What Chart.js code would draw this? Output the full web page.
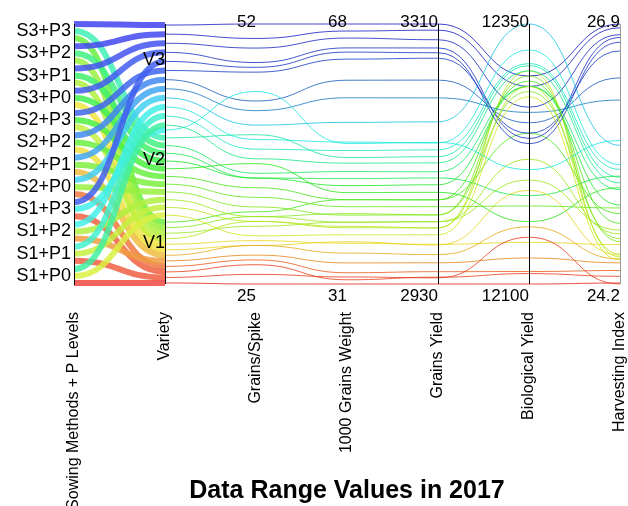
<!DOCTYPE html>
<html>
<head>
<meta charset="utf-8">
<script src="https://cdn.jsdelivr.net/npm/chart.js@4.4.1/dist/chart.umd.min.js"></script>
<style>
  html, body { margin: 0; padding: 0; background: #fff; }
  #wrap { width: 628px; height: 506px; }
</style>
</head>
<body>
<div id="wrap"><canvas id="chart"></canvas></div>
<script>
const treatments = ['S1+P0', 'S1+P1', 'S1+P2', 'S1+P3', 'S2+P0', 'S2+P1',
                    'S2+P2', 'S2+P3', 'S3+P0', 'S3+P1', 'S3+P2', 'S3+P3'];
const varieties = ['V1', 'V2', 'V3'];
const axisNames = ['Sowing Methods + P Levels', 'Variety', 'Grains/Spike',
                   '1000 Grains Weight', 'Grains Yield', 'Biological Yield', 'Harvesting Index'];
const axisMin = [null, null, 25, 31, 2930, 12100, 24.2];
const axisMax = [null, null, 52, 68, 3310, 12350, 26.9];

// three rows per treatment: V1, V2, V3
const grainsSpike = [
  25.0, 30.0, 38.0,   26.0, 31.5, 39.0,   28.0, 32.0, 40.0,   27.0, 45.0, 47.5,
  27.5, 33.0, 41.5,   29.0, 34.0, 43.0,   29.0, 35.0, 44.0,   31.5, 37.5, 47.0,
  29.5, 36.0, 48.0,   31.0, 36.0, 49.5,   32.0, 36.5, 50.5,   32.5, 40.5, 52.0
];
const grainWeight = [
  31.0, 38.0, 48.2,   32.0, 39.2, 50.0,   34.0, 39.8, 51.2,   31.6, 51.0, 64.0,
  32.6, 40.8, 54.0,   35.4, 42.0, 57.5,   37.0, 43.0, 60.0,   39.0, 44.0, 63.0,
  36.8, 45.0, 64.6,   39.8, 46.0, 66.0,   41.0, 47.0, 67.0,   43.0, 49.0, 68.0
];
const grainYield = [
  2930, 3002, 3107,   2939, 3012, 3126,   2961, 3021, 3136,   2940, 3137, 3268,
  2948, 3031, 3167,   2973, 3043, 3202,   2987, 3053, 3228,   3012, 3064, 3260,
  2988, 3075, 3275,   3021, 3085, 3287,   3031, 3094, 3301,   3053, 3116, 3310
];
const bioYield = [
  12100, 12280, 12305,   12145, 12290, 12312,   12125, 12200, 12325,   12110, 12210, 12235,
  12112, 12285, 12350,   12155, 12175, 12265,   12190, 12295, 12255,   12305, 12160, 12245,
  12140, 12290, 12240,   12220, 12185, 12270,   12300, 12290, 12290,   12245, 12310, 12300
];
const harvestIndex = [
  24.21, 24.45, 25.25,   24.20, 24.51, 25.39,   24.42, 24.76, 25.44,   24.28, 25.69, 26.71,
  24.34, 24.67, 25.64,   24.46, 24.99, 26.11,   24.50, 24.83, 26.34,   24.48, 25.20, 26.62,
  24.61, 25.02, 26.76,   24.72, 25.32, 26.79,   24.64, 25.18, 26.86,   24.93, 25.31, 26.90
];

const FONT = "'Liberation Sans', Arial, sans-serif";
Chart.defaults.font.family = FONT;
Chart.defaults.color = '#000';

// vertical layout of the two categorical axes, in plot-height units (0 bottom, 1 top)
const plotH = 260;
const slotPos = (t, v) => (8 + 22.27 * t + (v - 1) * 7) / plotH;
const varietyBands = [[0.004, 0.238], [0.265, 0.592], [0.611, 0.996]];
const varietyLabelPos = varietyBands.map(([lo, hi]) => hi - 0.35 * (hi - lo));

// rows sit inside their variety band ordered by grain yield
const varietyPos = grainYield.map((gy, i) => {
  const v = i % 3;
  const group = grainYield.filter((_, j) => j % 3 === v).sort((a, b) => b - a);
  const [lo, hi] = varietyBands[v];
  return hi - group.indexOf(gy) / (group.length - 1) * (hi - lo);
});

const norm = (val, k) => (val - axisMin[k]) / (axisMax[k] - axisMin[k]);

// rainbow keyed on grain yield: red at the bottom of the range, blue at the top
const hueStops = [[0, 2], [0.15, 55], [0.35, 115], [0.55, 180], [0.85, 226], [1, 240]];
function yieldHue(gy) {
  const n = norm(gy, 4);
  for (let k = 1; k < hueStops.length; k++) {
    const [n0, h0] = hueStops[k - 1];
    const [n1, h1] = hueStops[k];
    if (n <= n1) return h0 + (h1 - h0) * (n - n0) / (n1 - n0);
  }
  return 240;
}

const datasets = grainYield.map((gy, i) => {
  const t = Math.floor(i / 3);
  const v = i % 3;
  const hue = Math.round(yieldHue(gy));
  const ribbon = `hsla(${hue}, 85%, 60%, 0.85)`;
  // blues read darker as hairlines, the warm end stays bright
  const thin = `hsla(${hue}, 80%, ${hue > 200 ? 42 : 50}%, 0.8)`;
  return {
    label: treatments[t] + ' ' + varieties[v],
    xAxisID: 'x',
    yAxisID: 'y',
    clip: false,
    borderColor: thin,
    data: [
      { x: 0, y: slotPos(t, v) },
      { x: 1, y: varietyPos[i] },
      { x: 2, y: norm(grainsSpike[i], 2) },
      { x: 3, y: norm(grainWeight[i], 3) },
      { x: 4, y: norm(gy, 4) },
      { x: 5, y: norm(bioYield[i], 5) },
      { x: 6, y: norm(harvestIndex[i], 6) }
    ],
    segment: {
      borderWidth: ctx => ctx.p0DataIndex === 0 ? 6 : 1,
      borderColor: ctx => ctx.p0DataIndex === 0 ? ribbon : thin
    }
  };
});

// flat tangents at every axis so lines leave and enter each axis horizontally
const levelTangents = {
  id: 'levelTangents',
  beforeDatasetDraw(chart, args) {
    const meta = args.meta;
    const pts = meta.data;
    if (meta.dataset.updateControlPoints) {
      meta.dataset.updateControlPoints(chart.chartArea, meta.iScale.axis);
    }
    pts.forEach((p, i) => {
      const left = i > 0 ? (p.x - pts[i - 1].x) * 0.5 : 0;
      const right = i < pts.length - 1 ? (pts[i + 1].x - p.x) * 0.5 : 0;
      p.cp1x = p.x - left; p.cp1y = p.y;
      p.cp2x = p.x + right; p.cp2y = p.y;
    });
  }
};

const axisLineColors = ['#000', '#000', 'rgba(0,0,0,0)', 'rgba(0,0,0,0)', '#000', '#000', '#999'];
const axisTicks = s => { s.ticks = axisNames.map((_, i) => ({ value: i })); };

new Chart(document.getElementById('chart'), {
  type: 'line',
  data: { datasets },
  options: {
    responsive: true,
    maintainAspectRatio: false,
    animation: false,
    layout: { padding: { top: 0, right: 8, bottom: 0, left: 0 } },
    elements: {
      point: { radius: 0 },
      line: { tension: 0.4, borderCapStyle: 'butt' }
    },
    plugins: {
      legend: { display: false },
      tooltip: { enabled: false }
    },
    scales: {
      x: {
        type: 'linear', min: 0, max: 6, position: 'bottom',
        afterBuildTicks: axisTicks,
        afterFit: s => { s.height = 24; s.paddingLeft = 0; s.paddingRight = 0; },
        grid: { z: 1, drawTicks: false, color: ctx => axisLineColors[ctx.index], lineWidth: 1 },
        border: { display: false },
        ticks: {
          autoSkip: false, maxRotation: 0, align: 'end', padding: 2,
          font: { size: 17 },
          callback: (val, i) => axisMin[i] === null ? '' : String(axisMin[i])
        }
      },
      xTop: {
        type: 'linear', min: 0, max: 6, position: 'top',
        afterBuildTicks: axisTicks,
        afterFit: s => { s.height = 24; s.paddingLeft = 0; s.paddingRight = 0; },
        grid: { display: false, drawTicks: false },
        border: { display: false },
        ticks: {
          z: 1, autoSkip: false, maxRotation: 0, align: 'end', mirror: true, padding: -12,
          font: { size: 17 },
          callback: (val, i) => axisMax[i] === null ? '' : String(axisMax[i])
        }
      },
      xName: {
        type: 'linear', min: 0, max: 6, position: 'bottom', weight: 1,
        afterBuildTicks: axisTicks,
        afterFit: s => { s.height = 198; s.paddingLeft = 0; s.paddingRight = 0; },
        grid: { display: false, drawTicks: false },
        border: { display: false },
        ticks: {
          autoSkip: false, minRotation: 90, maxRotation: 90, padding: 4,
          font: { size: 16 },
          callback: (val, i) => axisNames[i]
        },
        title: {
          display: true,
          text: 'Data Range Values in 2017',
          color: '#000',
          font: { family: FONT, size: 25, weight: 'bold' },
          padding: { top: 0, bottom: 0 }
        }
      },
      y: {
        type: 'linear', min: 0, max: 1, position: 'left',
        afterBuildTicks: s => { s.ticks = treatments.map((_, t) => ({ value: slotPos(t, 1) })); },
        afterFit: s => { s.width = 74; s.paddingTop = 0; s.paddingBottom = 0; },
        grid: { display: false, drawTicks: false },
        border: { display: true, color: '#000', width: 1, z: 1 },
        ticks: { autoSkip: false, padding: 3, font: { size: 18 }, callback: (val, i) => treatments[i] }
      },
      yVar: {
        type: 'linear', min: 0, max: 1, position: { x: 1 },
        afterBuildTicks: s => { s.ticks = varietyLabelPos.map(p => ({ value: p })); },
        grid: { display: false, drawTicks: false },
        border: { display: false },
        ticks: { z: 2, autoSkip: false, padding: 3, font: { size: 18 }, callback: (val, i) => varieties[i] }
      }
    }
  },
  plugins: [levelTangents]
});
</script>
</body>
</html>
